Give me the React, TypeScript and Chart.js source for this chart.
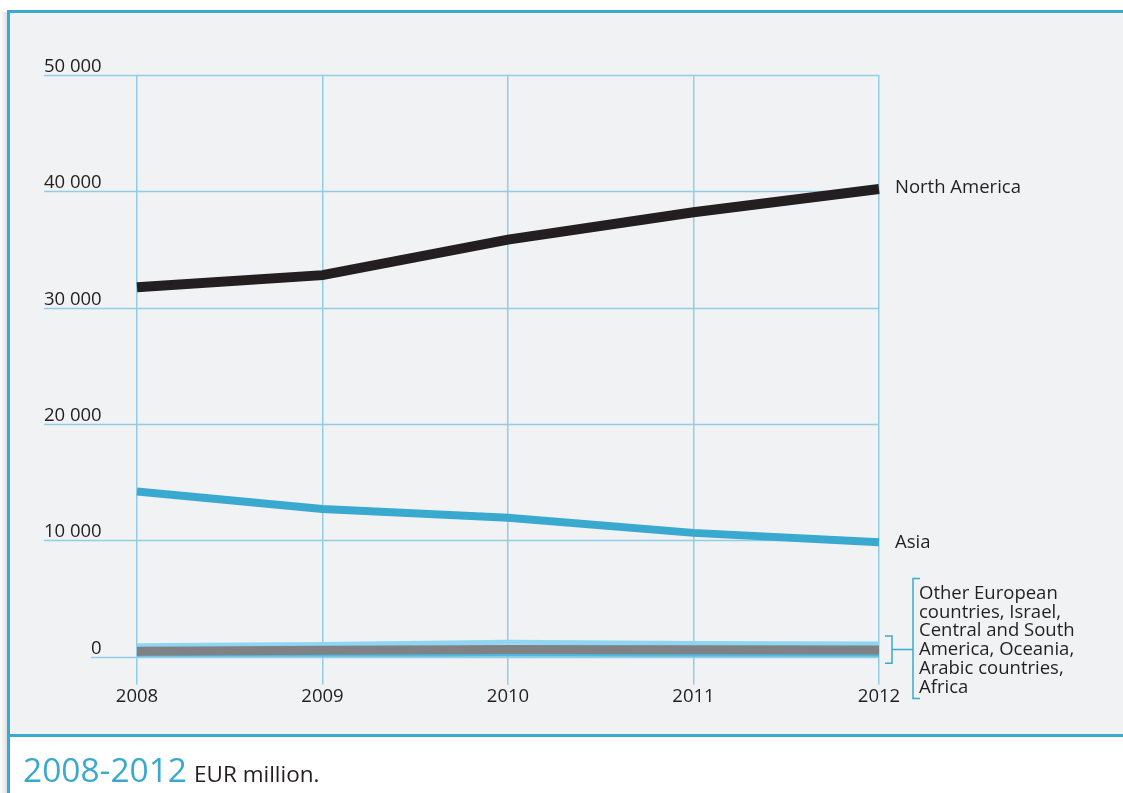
import React, { useEffect, useRef } from "react";
import { Chart, registerables } from "chart.js";

Chart.register(...registerables);

const years = ["2008", "2009", "2010", "2011", "2012"];
const northAmerica = [31750, 32800, 35850, 38200, 40200];
const asia = [14200, 12700, 11950, 10650, 9850];
const otherTop = [950, 1050, 1250, 1150, 1100];
const otherMid = [480, 560, 620, 600, 580];
const otherLow = [100, 130, 170, 150, 140];
const yTickValues = [0, 10000, 20000, 30000, 40000, 50000];
const yTickLabels = ["0", "10 000", "20 000", "30 000", "40 000", "50 000"];
const otherLabelLines = [
  "Other European",
  "countries, Israel,",
  "Central and South",
  "America, Oceania,",
  "Arabic countries,",
  "Africa",
];

const FONT = "'Open Sans', 'Noto Sans', sans-serif";
const BLUE = "#3aa9d0";
const GRID = "#93cde4";
const TEXT = "#231f20";
const FS = 18.5;

const overlayPlugin = {
  id: "overlay",
  beforeDatasetsDraw(chart: any) {
    const { ctx, chartArea, scales } = chart;
    const y = scales.y;
    ctx.save();
    ctx.strokeStyle = GRID;
    ctx.lineWidth = 1.5;
    ctx.font = `${FS}px ${FONT}`;
    ctx.fillStyle = TEXT;
    ctx.textBaseline = "alphabetic";
    ctx.textAlign = "left";
    yTickValues.forEach((v, i) => {
      const py = Math.round(y.getPixelForValue(v)) + 0.5;
      const startX = v === 0 ? chartArea.left - 46 : chartArea.left - 93;
      ctx.beginPath();
      ctx.moveTo(startX, py);
      ctx.lineTo(chartArea.right, py);
      ctx.stroke();
      ctx.fillText(yTickLabels[i], startX, py - 4);
    });
    ctx.restore();
  },
  afterDatasetsDraw(chart: any) {
    const { ctx, chartArea, scales } = chart;
    const y = scales.y;
    const last = years.length - 1;
    const lx = chartArea.right + 16;
    ctx.save();
    ctx.font = `${FS}px ${FONT}`;
    ctx.fillStyle = TEXT;
    ctx.textBaseline = "middle";
    ctx.textAlign = "left";
    ctx.fillText("North America", lx, y.getPixelForValue(northAmerica[last]) - 1);
    ctx.fillText("Asia", lx, y.getPixelForValue(asia[last]) + 1);

    // bracket for the small series
    const top = y.getPixelForValue(otherTop[last]) - 8;
    const bot = y.getPixelForValue(otherLow[last]) + 8;
    const mid = (top + bot) / 2;
    const bx0 = chartArea.right + 6;
    const bx1 = chartArea.right + 13;
    const bx2 = chartArea.right + 34;
    ctx.strokeStyle = BLUE;
    ctx.lineWidth = 1.5;
    ctx.beginPath();
    ctx.moveTo(bx0, top);
    ctx.lineTo(bx1, top);
    ctx.lineTo(bx1, bot);
    ctx.lineTo(bx0, bot);
    ctx.moveTo(bx1, mid);
    ctx.lineTo(bx2, mid);
    ctx.stroke();

    const lineH = 18.8;
    const n = otherLabelLines.length;
    const bigTop = mid - 71;
    const bigBot = mid + 49;
    ctx.beginPath();
    ctx.moveTo(bx2 + 7, bigTop);
    ctx.lineTo(bx2, bigTop);
    ctx.lineTo(bx2, bigBot);
    ctx.lineTo(bx2 + 7, bigBot);
    ctx.stroke();
    const textX = bx2 + 6;
    const firstY = bigTop + 15;
    for (let i = 0; i < n; i++) {
      ctx.fillText(otherLabelLines[i], textX, firstY + i * lineH);
    }
    ctx.restore();
  },
};

export default function App() {
  const canvasRef = useRef<HTMLCanvasElement | null>(null);

  useEffect(() => {
    document.body.style.margin = "0";
    const canvas = canvasRef.current;
    if (!canvas) return;
    const mk = (data: number[], color: string, width: number) => ({
      data,
      borderColor: color,
      backgroundColor: color,
      borderWidth: width,
      pointRadius: 0,
      tension: 0,
      fill: false,
      borderCapStyle: "butt" as const,
      borderJoinStyle: "miter" as const,
    });
    const chart = new Chart(canvas, {
      type: "line",
      data: {
        labels: years,
        datasets: [
          { label: "North America", ...mk(northAmerica, TEXT, 10) },
          { label: "Asia", ...mk(asia, BLUE, 8) },
          { label: "Other (mid)", ...mk(otherMid, "#808184", 9) },
          { label: "Other (low)", ...mk(otherLow, "#4db9e2", 4) },
          { label: "Other (top)", ...mk(otherTop, "#8fd6f3", 5) },
        ],
      },
      options: {
        animation: false,
        responsive: false,
        maintainAspectRatio: false,
        layout: { padding: { left: 137, right: 244, top: 75, bottom: 84 } },
        plugins: {
          legend: { display: false },
          tooltip: { enabled: false },
          title: { display: false },
        },
        scales: {
          x: {
            type: "category",
            offset: false,
            border: { display: false },
            grid: {
              color: GRID,
              lineWidth: 1.5,
              drawTicks: true,
              tickLength: 28,
              tickColor: GRID,
            },
            ticks: {
              color: TEXT,
              font: { family: FONT, size: FS },
              padding: 1,
              maxRotation: 0,
            },
          },
          y: {
            display: false,
            min: 0,
            max: 50000,
            ticks: { stepSize: 10000 },
            grid: { display: false },
          },
        },
      },
      plugins: [overlayPlugin],
    });
    return () => chart.destroy();
  }, []);

  return (
    <div
      style={{
        position: "relative",
        width: 1123,
        height: 793,
        background: "#ffffff",
        overflow: "hidden",
        fontFamily: FONT,
      }}
    >
      <div
        style={{
          position: "absolute",
          left: 0,
          top: 12,
          width: 8,
          height: 781,
          background: "linear-gradient(to right, #ffffff, #d9dbdd)",
        }}
      />
      <div
        style={{
          position: "absolute",
          left: 7,
          top: 10,
          width: 1116,
          height: 727,
          background: "#f0f2f4",
          borderTop: `3px solid ${BLUE}`,
          borderBottom: `3px solid ${BLUE}`,
          boxSizing: "border-box",
        }}
      />
      <div
        style={{
          position: "absolute",
          left: 7,
          top: 10,
          width: 3,
          height: 783,
          background: BLUE,
        }}
      />
      <canvas
        ref={canvasRef}
        width={1123}
        height={793}
        style={{ position: "absolute", left: 0, top: 0, width: 1123, height: 793 }}
      />
      <div
        style={{
          position: "absolute",
          left: 23,
          top: 749,
          whiteSpace: "nowrap",
          color: TEXT,
          lineHeight: "40px",
        }}
      >
        <span style={{ color: BLUE, fontSize: 33.5 }}>2008-2012</span>
        <span style={{ fontSize: 22.5, marginLeft: 7 }}>EUR million.</span>
      </div>
    </div>
  );
}
